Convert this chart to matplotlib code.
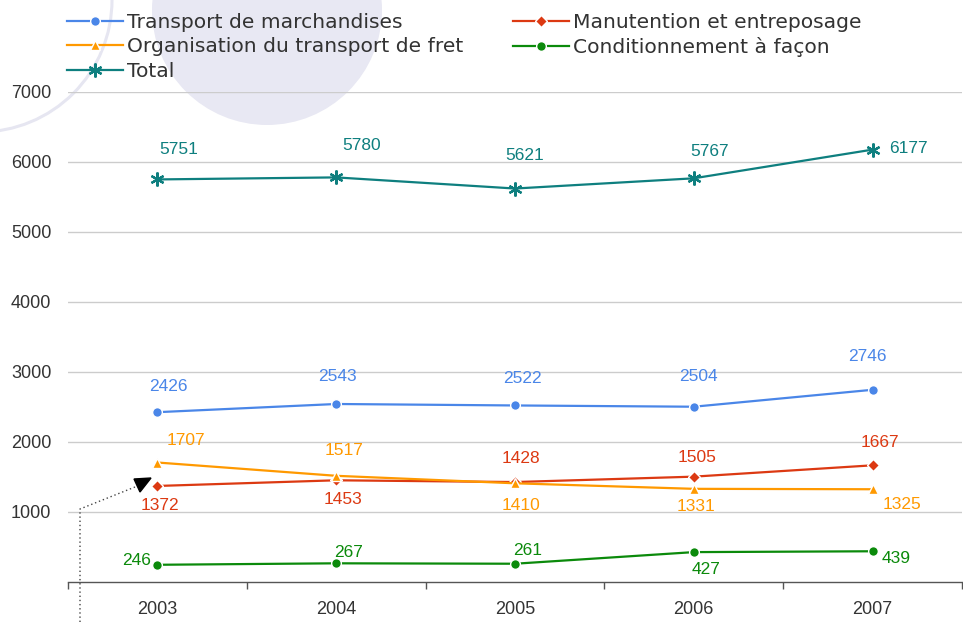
import numpy as np
import matplotlib
matplotlib.use('Agg')
import matplotlib.pyplot as plt
from matplotlib.patches import Ellipse, Polygon
from matplotlib.lines import Line2D

'''            DATA          '''
years = ['2003', '2004', '2005', '2006', '2007']
transport = [2426, 2543, 2522, 2504, 2746]
manutention = [1372, 1453, 1428, 1505, 1667]
organisation = [1707, 1517, 1410, 1331, 1325]
conditionnement = [246, 267, 261, 427, 439]
total = [5751, 5780, 5621, 5767, 6177]

'''            STYLE          '''
W, H = 963, 622
c_blue = '#4a86e8'
c_red = '#dc3912'
c_orange = '#ff9900'
c_green = '#0b8a0b'
c_teal = '#0e7f7f'
c_text = '#333333'

# label offsets in pixels (dx, dy) for each point
off_total = [(21, 30), (25, 32), (10, 33), (16, 27), (36, 1)]
off_transport = [(11, 26), (1, 27), (7, 27), (5, 30), (-5, 33)]
off_orga = [(29, 22), (8, 25), (6, -22), (2, -18), (29, -15)]
off_manu = [(3, -20), (7, -19), (6, 24), (3, 19), (7, 23)]
off_cond = [(-21, 4), (12, 11), (13, 13), (12, -17), (24, -7)]

'''            FIGURE          '''
fig = plt.figure(figsize=(W / 100, H / 100), dpi=100)

def fx(px):
    return px / W

def fy(py):
    return 1 - py / H

# background decorations
fig.add_artist(Ellipse((fx(267), fy(10)), 2 * 115 / W, 2 * 115 / H,
                       transform=fig.transFigure, facecolor='#e8e8f3',
                       edgecolor='none', zorder=-2))
fig.add_artist(Ellipse((fx(-20), fy(0)), 2 * 132 / W, 2 * 132 / H,
                       transform=fig.transFigure, facecolor='none',
                       edgecolor='#e6e6f1', lw=2.2, zorder=-2))

ax = fig.add_axes([fx(68), fy(582), fx(962) - fx(68), fy(92) - fy(582)])
ax.set_facecolor('none')
x = np.arange(len(years))

series = [
    (transport, 'Transport de marchandises', c_blue, 'o', 7, off_transport),
    (manutention, 'Manutention et entreposage', c_red, 'D', 6, off_manu),
    (organisation, 'Organisation du transport de fret', c_orange, '^', 7.5, off_orga),
    (conditionnement, 'Conditionnement à façon', c_green, 'o', 7, off_cond),
]
handles = {}
for vals, name, col, mk, ms, offs in series:
    h, = ax.plot(x, vals, color=col, lw=1.6, marker=mk, ms=ms,
                 mfc=col, mec='white', mew=1.0, label=name, zorder=3)
    handles[name] = h
    for xi, v, (dx, dy) in zip(x, vals, offs):
        ax.annotate(str(v), (xi, v), xytext=(dx, dy), textcoords='offset pixels',
                    ha='center', va='center', color=col, fontsize=12.5,
                    family='Liberation Sans', zorder=4)

h, = ax.plot(x, total, color=c_teal, lw=1.6, marker=(6, 2, 0), ms=10,
             mec=c_teal, mew=1.6, label='Total', zorder=3)
handles['Total'] = h
for xi, v, (dx, dy) in zip(x, total, off_total):
    ax.annotate(str(v), (xi, v), xytext=(dx, dy), textcoords='offset pixels',
                ha='center', va='center', color=c_teal, fontsize=12.5,
                family='Liberation Sans', zorder=4)

ax.set_xlim(-0.5, len(years) - 0.5)
ax.set_ylim(0, 7000)
ax.set_yticks([1000, 2000, 3000, 4000, 5000, 6000, 7000])
ax.set_xticks(x)
ax.set_xticklabels(years)
ax.set_xticks(np.arange(-0.5, len(years)), minor=True)
ax.tick_params(axis='x', which='major', length=0, pad=14, labelsize=13,
               labelcolor=c_text)
ax.tick_params(axis='x', which='minor', length=5, width=1, color='#555555')
ax.tick_params(axis='y', length=0, pad=12, labelsize=13, labelcolor=c_text)
for lab in ax.get_xticklabels() + ax.get_yticklabels():
    lab.set_family('Liberation Sans')
ax.grid(axis='y', color='#cccccc', lw=1)
ax.set_axisbelow(True)
for s in ['top', 'right', 'left']:
    ax.spines[s].set_visible(False)
ax.spines['bottom'].set_color('#555555')
ax.spines['bottom'].set_linewidth(1)

order = ['Transport de marchandises', 'Organisation du transport de fret', 'Total',
         'Manutention et entreposage', 'Conditionnement à façon']
fig.legend([handles[k] for k in order], order, ncol=2, loc='upper left',
           bbox_to_anchor=(fx(67), fy(13)), frameon=False, borderpad=0,
           borderaxespad=0, handlelength=2.75, handletextpad=0.22,
           labelspacing=0.27, columnspacing=2.45,
           prop={'family': 'DejaVu Sans', 'size': 14.6}, labelcolor=c_text)

# dotted pointer with arrow head
fig.add_artist(Line2D([fx(80), fx(80), fx(135)], [fy(622), fy(509), fy(487)],
                      transform=fig.transFigure, color='#444444', lw=1,
                      ls=(0, (1, 2))))
fig.add_artist(Polygon([(fx(134), fy(479)), (fx(151), fy(478)), (fx(140), fy(492))],
                       closed=True, transform=fig.transFigure, color='black'))

fig.savefig('out.png', dpi=100)
